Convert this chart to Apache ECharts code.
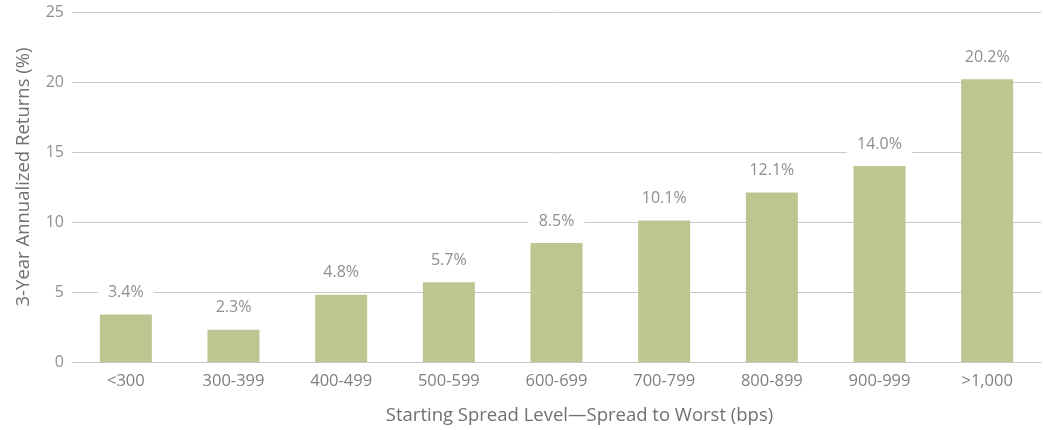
<!DOCTYPE html>
<html><head><meta charset="utf-8">
<script src="https://cdn.jsdelivr.net/npm/echarts@6/dist/echarts.min.js"></script>
<style>html,body{margin:0;padding:0;background:#fff}#c{width:1043px;height:430px}</style>
</head><body><div id="c"></div>
<script>
const categories = ['<300','300-399','400-499','500-599','600-699','700-799','800-899','900-999','>1,000'];
const values = [3.4, 2.3, 4.8, 5.7, 8.5, 10.1, 12.1, 14.0, 20.2];
const yTicks = [0, 5, 10, 15, 20, 25];
const FONT = '"Open Sans", "Noto Sans", sans-serif';
const chart = echarts.init(document.getElementById('c'));
chart.setOption({
  animation: false,
  grid: {left: 72, right: 2, top: 12, bottom: 67},
  xAxis: {
    type: 'category', data: categories,
    axisLine: {show: true, lineStyle: {color: '#c8c8c8', width: 1}},
    axisTick: {show: false},
    axisLabel: {color: '#7f7f7f', fontSize: 16.5, fontFamily: FONT, margin: 11},
    name: 'Starting Spread Level\u2014Spread to Worst (bps)',
    nameLocation: 'middle', nameGap: 44,
    nameTextStyle: {color: '#707070', fontSize: 18.5, fontFamily: FONT, padding: [0, 0, 0, 46]}
  },
  yAxis: {
    type: 'value', min: 0, max: 25, interval: 5,
    axisLine: {show: false}, axisTick: {show: false},
    axisLabel: {color: '#8f8f8f', fontSize: 16, fontFamily: FONT, margin: 8,
      formatter: v => yTicks.includes(v) ? String(v) : ''},
    splitLine: {lineStyle: {color: '#c8c8c8', width: 1}},
    name: '3-Year Annualized Returns (%)',
    nameLocation: 'middle', nameGap: 39, nameRotate: 90,
    nameTextStyle: {color: '#707070', fontSize: 18.5, fontFamily: FONT, padding: [0, 0, 0, 20]}
  },
  series: [{
    type: 'bar', data: values, barWidth: 52,
    itemStyle: {color: '#bec590'},
    label: {show: true, position: 'top', distance: 12,
      formatter: p => p.value.toFixed(1) + '%',
      color: '#8f8f8f', fontSize: 16, fontFamily: FONT,
      backgroundColor: '#fff', padding: [2, 10]}
  }]
});
</script></body></html>
